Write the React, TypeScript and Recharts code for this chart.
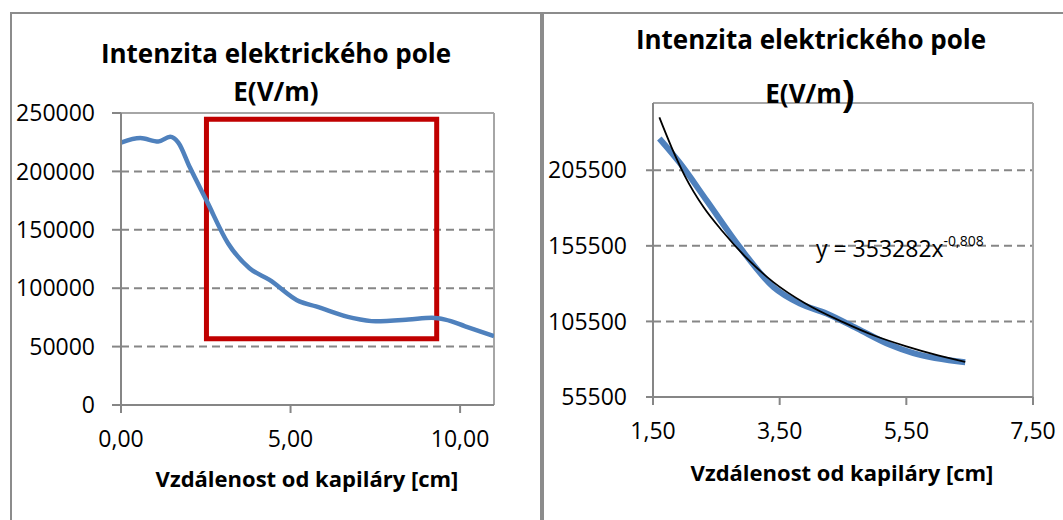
import {
  LineChart,
  Line,
  XAxis,
  YAxis,
  CartesianGrid,
  ReferenceArea,
  ReferenceLine,
} from "recharts";

// left chart: whole measured profile
const fullDistance = [0, 0.57, 1.1, 1.45, 1.69, 2.03, 2.52, 3.16, 3.79, 4.38, 5.26, 5.75, 6.82, 7.51, 8.48, 9.17, 9.56, 10.15, 11.0];
const fullField = [224700, 228500, 225600, 229600, 224700, 203500, 175200, 138300, 117100, 107100, 88700, 84400, 74600, 71700, 73100, 74600, 73100, 67400, 58900];

// right chart: the part inside the red box
const zoomDistance = [1.6, 1.92, 2.35, 2.87, 3.4, 3.82, 4.24, 4.72, 5.25, 5.61, 6.43];
const zoomField = [226500, 210500, 185300, 154600, 128300, 117300, 110800, 100900, 89900, 84500, 78500];

// power trendline as drawn on the right chart
const trendDistance = [1.6, 1.8, 2.0, 2.3, 2.6, 3.0, 3.4, 3.9, 4.5, 5.0, 5.5, 6.0, 6.43];
const trendField = [240500, 220000, 202000, 181000, 165000, 146500, 131500, 117500, 105000, 96000, 89000, 83000, 78700];

const leftYTicks = [0, 50000, 100000, 150000, 200000, 250000];
const leftXTicks = [0, 5, 10];
const rightYTicks = [55500, 105500, 155500, 205500];
const rightXTicks = [1.5, 3.5, 5.5, 7.5];

// red highlight box (data coords)
const boxX = [2.52, 9.31];
const boxY = [56700, 244600];

const titleLine1 = "Intenzita elektrického pole";
const titleLine2 = "E(V/m";
const xLabel = "Vzdálenost od kapiláry [cm]";
const equation = "y = 353282x";
const equationExp = "-0,808";

const fullData = fullDistance.map((x, i) => ({ x, e: fullField[i] }));
const zoomData = zoomDistance.map((x, i) => ({ x, e: zoomField[i] }));
const trendData = trendDistance.map((x, i) => ({ x, e: trendField[i] }));

const BLUE = "#4F81BD";
const AXIS = "#868686";
const BORDER = "#A6A6A6";
const FONT = "'Open Sans', sans-serif";

const fmt = (v: number) => v.toFixed(2).replace(".", ",");
const tickStyle = { fill: "#000", fontSize: 23, fontFamily: FONT };

export default function App() {
  return (
    <div
      style={{
        position: "absolute",
        left: 0,
        top: 0,
        width: 1063,
        height: 520,
        background: "#fff",
        fontFamily: FONT,
        overflow: "hidden",
      }}
    >
      <div style={{ position: "absolute", left: 0, top: 0 }}>
        <LineChart width={540} height={520} margin={{ top: 113, right: 46, bottom: 75, left: 0 }}>
          <ReferenceLine y={250000} stroke={BORDER} strokeWidth={2} />
          <ReferenceLine x={11} stroke={BORDER} strokeWidth={2} />
          <CartesianGrid vertical={false} stroke={AXIS} strokeWidth={2} strokeDasharray="8 5" />
          <XAxis
            type="number"
            dataKey="x"
            domain={[0, 11]}
            ticks={leftXTicks}
            tickFormatter={fmt}
            allowDataOverflow
            height={40}
            tickSize={8}
            tickMargin={18}
            tick={tickStyle}
            stroke={AXIS}
            strokeWidth={2}
          />
          <YAxis
            type="number"
            domain={[0, 250000]}
            ticks={leftYTicks}
            interval={0}
            allowDataOverflow
            width={121}
            tickSize={9}
            tickMargin={17}
            tick={tickStyle}
            stroke={AXIS}
            strokeWidth={2}
          />
          <Line
            data={fullData}
            dataKey="e"
            type="monotone"
            stroke={BLUE}
            strokeWidth={4.5}
            dot={false}
            isAnimationActive={false}
          />
          <ReferenceArea
            x1={boxX[0]}
            x2={boxX[1]}
            y1={boxY[0]}
            y2={boxY[1]}
            fill="none"
            fillOpacity={0}
            stroke="#C00000"
            strokeWidth={5}
            strokeOpacity={1}
          />
        </LineChart>
      </div>

      <div style={{ position: "absolute", left: 540, top: 0 }}>
        <LineChart width={523} height={520} margin={{ top: 103, right: 30, bottom: 83, left: 0 }}>
          <ReferenceLine y={250000} stroke={BORDER} strokeWidth={2} />
          <ReferenceLine x={7.5} stroke={BORDER} strokeWidth={2} />
          <CartesianGrid vertical={false} stroke={AXIS} strokeWidth={2} strokeDasharray="8 5" />
          <XAxis
            type="number"
            dataKey="x"
            domain={[1.5, 7.5]}
            ticks={rightXTicks}
            tickFormatter={fmt}
            allowDataOverflow
            height={40}
            tickSize={8}
            tickMargin={18}
            tick={tickStyle}
            stroke={AXIS}
            strokeWidth={2}
          />
          <YAxis
            type="number"
            domain={[55500, 250000]}
            ticks={rightYTicks}
            interval={0}
            allowDataOverflow
            width={113}
            tickSize={7}
            tickMargin={19}
            tick={tickStyle}
            stroke={AXIS}
            strokeWidth={2}
          />
          <Line
            data={zoomData}
            dataKey="e"
            type="monotone"
            stroke={BLUE}
            strokeWidth={6}
            dot={false}
            isAnimationActive={false}
          />
          <Line
            data={trendData}
            dataKey="e"
            type="monotone"
            stroke="#000"
            strokeWidth={1.8}
            dot={false}
            isAnimationActive={false}
          />
        </LineChart>
      </div>

      {/* frames, titles and labels */}
      <svg
        width={1063}
        height={520}
        style={{ position: "absolute", left: 0, top: 0, pointerEvents: "none" }}
        fontFamily={FONT}
      >
        <line x1={10} y1={13} x2={1063} y2={13} stroke="#8C8C8C" strokeWidth={2} />
        <line x1={11} y1={12} x2={11} y2={520} stroke="#8C8C8C" strokeWidth={2} />
        <line x1={542} y1={12} x2={542} y2={520} stroke="#8C8C8C" strokeWidth={4} />

        <text x={276} y={63} textAnchor="middle" fontSize={26} fontWeight="bold">{titleLine1}</text>
        <text x={276} y={101} textAnchor="middle" fontSize={26} fontWeight="bold">{titleLine2})</text>
        <text x={307} y={487} textAnchor="middle" fontSize={22} fontWeight="bold">{xLabel}</text>

        <text x={811} y={49} textAnchor="middle" fontSize={26} fontWeight="bold">{titleLine1}</text>
        <text x={810} y={103} textAnchor="middle" fontSize={26} fontWeight="bold">
          {titleLine2}
          <tspan fontSize={38} dy={4}>)</tspan>
        </text>
        <text x={842} y={481} textAnchor="middle" fontSize={22} fontWeight="bold">{xLabel}</text>

        <text x={816} y={257} fontSize={23}>
          {equation}
          <tspan fontSize={14} dy={-11}>{equationExp}</tspan>
        </text>
      </svg>
    </div>
  );
}
